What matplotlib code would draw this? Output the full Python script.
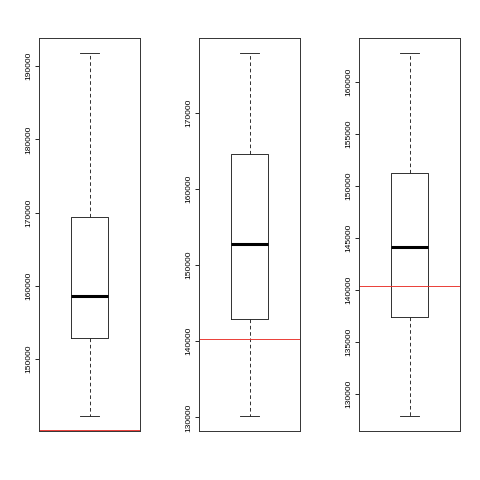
import matplotlib
matplotlib.use("Agg")
import matplotlib.pyplot as plt
from matplotlib.ticker import MultipleLocator

plt.rcParams['font.family'] = ['Liberation Sans', 'DejaVu Sans']

# five-number summaries
whislo = [142140, 130130, 127810]
q1 = [152880, 142950, 137340]
med = [158580, 152720, 144070]
q3 = [169450, 164530, 151185]
whishi = [191860, 177890, 162820]
ref_line = [140300, 140260, 140330]
tick_step = [10000, 10000, 5000]

fig = plt.figure(figsize=(4.8, 4.8), dpi=100)
lefts = [39 / 480, 199 / 480, 359 / 480]

for i in range(3):
    ax = fig.add_axes([lefts[i], 49 / 480, 101 / 480, 393 / 480])
    stats = [dict(whislo=whislo[i], q1=q1[i], med=med[i], q3=q3[i], whishi=whishi[i])]
    ax.bxp(stats, positions=[1], widths=0.4, showfliers=False,
           boxprops=dict(color='#222222', lw=0.65),
           medianprops=dict(color='black', lw=2.2, solid_capstyle='butt'),
           whiskerprops=dict(color='#222222', lw=0.65, linestyle=(0, (4, 3))),
           capprops=dict(color='#222222', lw=0.65), capwidths=0.2)
    span = whishi[i] - whislo[i]
    ax.set_ylim(whislo[i] - 0.04 * span, whishi[i] + 0.04 * span)
    ax.set_xlim(0.46, 1.54)
    ax.axhline(ref_line[i], color='#e8302a', lw=0.65)
    ax.yaxis.set_major_locator(MultipleLocator(tick_step[i]))
    ax.set_xticks([])
    ax.tick_params(axis='y', length=3, width=0.6, labelsize=6, pad=2)
    for lab in ax.get_yticklabels():
        lab.set_rotation(90)
        lab.set_va('center')
    for sp in ax.spines.values():
        sp.set_linewidth(0.7)
        sp.set_color('#333333')

fig.savefig("out.png", dpi=100)
